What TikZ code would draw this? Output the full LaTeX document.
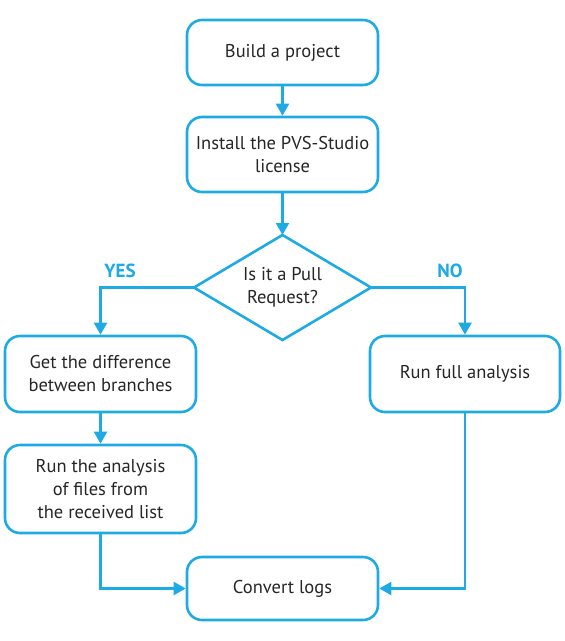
\documentclass[tikz,border=0pt]{standalone}
\usepackage{fontspec}
\setmainfont{PT Sans}
\usetikzlibrary{arrows.meta,shapes.geometric}
\definecolor{fc}{HTML}{1EAAE3}
\tikzset{
  box/.style={draw=fc, line width=2.6pt, rounded corners=15pt, align=center, font=\fontsize{18.5}{23}\selectfont, text=black!85, inner sep=0pt},
  conn/.style={draw=fc, line width=2.2pt, -{Triangle[width=13pt,length=12pt]}},
  lbl/.style={text=fc, font=\fontsize{19}{20}\selectfont\bfseries}
}
\begin{document}
\begin{tikzpicture}[x=1pt,y=-1pt]
\useasboundingbox (0,0) rectangle (565,641);
\node[box, minimum width=191pt, minimum height=65pt] (build) at (282.5,52.5) {Build a project};
\node[box, minimum width=191pt, minimum height=75pt] (lic) at (282.5,154.5) {Install the PVS-Studio\\license};
\node[align=center, font=\fontsize{18.5}{23}\selectfont, text=black!85] (qtext) at (282.5,287.5) {Is it a Pull\\Request?};
\coordinate (dt) at (282.5,235);
\coordinate (dl) at (194,287.5);
\coordinate (dr) at (371,287.5);
\coordinate (db) at (282.5,340);
\draw[draw=fc, line width=2.6pt, line join=miter] (dt) -- (dr) -- (db) -- (dl) -- cycle;
\node[box, minimum width=191pt, minimum height=76pt] (diff) at (100.5,374) {Get the difference\\between branches};
\node[box, minimum width=190pt, minimum height=76pt] (full) at (465,374) {Run full analysis};
\node[box, minimum width=191pt, minimum height=88pt] (part) at (100.5,489) {Run the analysis\\of files from\\the received list};
\node[box, minimum width=191pt, minimum height=63pt] (logs) at (282.5,588.5) {Convert logs};
\draw[conn] (build) -- (lic);
\draw[conn] (lic) -- (dt);
\draw[conn] (dl) -| (diff.north);
\draw[conn] (dr) -| (full.north);
\draw[conn] (diff) -- (part);
\draw[conn] (part.south) |- (logs.west);
\draw[conn] (full.south) |- (logs.east);
\node[lbl] (yes) at (120,271) {YES};
\node[lbl] (no) at (450,271) {NO};
\end{tikzpicture}
\end{document}
